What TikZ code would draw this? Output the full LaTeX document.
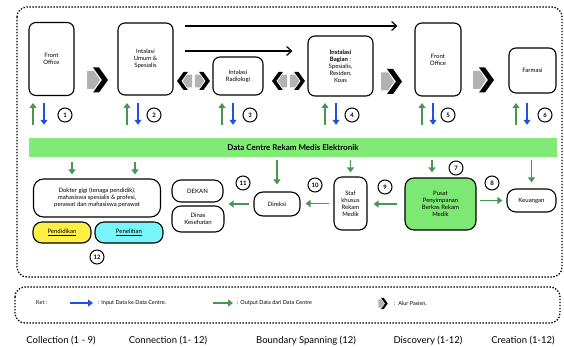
\documentclass[tikz,border=0pt]{standalone}
\usepackage{fontspec}
\setmainfont{Lato}
\usepackage{tikz}
\usetikzlibrary{arrows.meta}
\definecolor{barfill}{RGB}{130,235,120}
\definecolor{outgreen}{RGB}{72,150,82}
\definecolor{inblue}{RGB}{30,80,230}
\definecolor{storefill}{RGB}{125,232,115}
\definecolor{eduyellow}{RGB}{255,240,70}
\definecolor{rescyan}{RGB}{120,245,250}

\begin{document}
\begin{tikzpicture}[x=1pt,y=-1pt,
		box/.style={draw, line width=1.1pt, rounded corners=7pt, align=center, inner sep=1pt, font=\fontsize{6}{7}\selectfont},
		num/.style={circle, draw, line width=1pt, minimum size=14pt, inner sep=0pt, font=\bfseries\fontsize{6}{6}\selectfont},
		outarr/.style={draw=outgreen, line width=1.8pt, -{Triangle[length=5pt,width=7pt]}},
		inarr/.style={draw=inblue, line width=1.8pt, -{Triangle[length=5pt,width=7pt]}},
		flow/.style={line width=1.2pt, -{Straight Barb[length=5pt,width=9pt]}},
		dotbox/.style={line width=1.3pt, dash pattern=on 1.4pt off 1.6pt, rounded corners=10pt},
		legtext/.style={anchor=west, inner sep=0pt, font=\fontsize{5.5}{6}\selectfont},
		phase/.style={font=\fontsize{9.5}{11}\selectfont},
		chev/.pic={
			\fill[black!30] (-10.5,-9) -- (-3.5,-9) -- (2.5,0) -- (-3.5,9) -- (-10.5,9) -- cycle;
			\fill[black] (-4.5,-12.5) -- (1.5,-12.5) -- (10.5,0) -- (1.5,12.5) -- (-4.5,12.5) -- (4.5,0) -- cycle;
		}]
	\useasboundingbox (0,0) rectangle (564,347);

	\draw[dotbox] (17,7) rectangle (562,277);
	\draw[dotbox] (15,287) rectangle (560,323);

	\node[box, minimum width=45, minimum height=73] (fo1) at (51.5,59) {Front\\Office};
	\node[box, minimum width=55, minimum height=72] (um) at (145.5,59) {Intalasi\\Umum \&\\Spesialis};
	\node[box, minimum width=50, minimum height=38] (rad) at (238,76) {Intalasi\\Radiologi};
	\node[box, minimum width=65, minimum height=60] (bag) at (340.5,66) {\textbf{Instalasi}\\\textbf{Bagian} :\\Spesialis,\\Residen,\\Koas};
	\node[box, minimum width=46, minimum height=73] (fo5) at (438,59.5) {Front\\Office};
	\node[box, minimum width=47, minimum height=45] (far) at (532.5,70.5) {Farmasi};

	\pic at (97.5,80) {chev};
	\pic[xscale=-0.72, yscale=0.72] at (184.6,81) {chev};
	\pic[scale=0.72] at (202.4,81) {chev};
	\pic[xscale=-0.72, yscale=0.72] at (279.6,81) {chev};
	\pic[scale=0.72] at (297.4,81) {chev};
	\pic at (391.5,81.5) {chev};
	\pic at (483.5,80) {chev};

	\coordinate (t1) at (185,26);
	\coordinate (t2) at (185,51);
	\draw[flow, shorten >=17pt] (t1) -- (t1 -| fo5.west);
	\draw[flow, shorten >=15pt] (t2) -- (t2 -| bag.west);

	\node[fill=barfill, minimum width=528, minimum height=19, font=\bfseries\fontsize{8}{9}\selectfont] (bar) at (293,147.5) {Data Centre Rekam Medis Elektronik};

	\foreach \i/\g/\c in {1/33/65, 2/127/154, 3/222/250, 4/325/352, 5/422/448, 6/516/545} {
		\coordinate (g\i) at (\g,103);
		\coordinate (b\i) at ([xshift=11pt]g\i);
		\draw[outarr, shorten <=13pt] (bar.north -| g\i) -- (g\i);
		\draw[inarr, shorten >=13pt] (b\i) -- (bar.north -| b\i);
		\node[num] (n\i) at (\c,115) {\i};
	}

	\node[box, minimum width=127, minimum height=38, rounded corners=10pt] (dok) at (97,198) {Dokter gigi (tenaga pendidik),\\mahasiswa spesialis \& profesi,\\perawat dan mahasiswa perawat};
	\node[box, fill=eduyellow, minimum width=58, minimum height=21, rounded corners=9pt] (pend) at (62,232.5) {\underline{Pendidikan}};
	\node[box, fill=rescyan, minimum width=68, minimum height=21, rounded corners=9pt] (pen) at (129,232.5) {\underline{Penelitian}};
	\node[num] (n12) at (97,257) {12};
	\coordinate (d1) at (72,0);
	\coordinate (d2) at (135,0);
	\draw[outarr, shorten <=5pt, shorten >=4pt] (bar.south -| d1) -- (dok.north -| d1);
	\draw[outarr, shorten <=5pt, shorten >=4pt] (bar.south -| d2) -- (dok.north -| d2);

	\node[box, minimum width=51, minimum height=22, rounded corners=9pt] (dekan) at (197.5,191) {DEKAN};
	\node[box, minimum width=52, minimum height=26, rounded corners=9pt] (dinas) at (198,219) {Dinas\\Kesehatan};
	\node[num] (n11) at (243,183) {11};

	\node[box, minimum width=46, minimum height=24, rounded corners=9pt] (dir) at (277,204) {Direksi};
	\draw[outarr, shorten <=3pt, shorten >=7pt] (bar.south -| dir.north) -- (dir.north);
	\draw[outarr, shorten <=4pt, shorten >=4pt] (dir.west) -- (dir.west -| dinas.east);
	\node[num] (n10) at (315,185) {10};

	\node[box, minimum width=33, minimum height=53, rounded corners=8pt] (staf) at (350.5,203.5) {Staf\\khusus\\Rekam\\Medik};
	\draw[outarr, shorten <=3pt, shorten >=4pt] (bar.south -| staf.north) -- (staf.north);
	\draw[outarr, shorten <=4pt, shorten >=5pt] (staf.west) -- (staf.west -| dir.east);
	\node[num] (n9) at (385,187) {9};

	\node[box, fill=storefill, minimum width=71, minimum height=52, rounded corners=9pt] (pusat) at (440.5,204) {Pusat\\Penyimpanan\\Berkas Rekam\\Medik};
	\coordinate (d3) at (432,0);
	\draw[outarr, shorten <=3pt, shorten >=5pt] (bar.south -| d3) -- (pusat.north -| d3);
	\draw[outarr, shorten <=7pt, shorten >=6pt] (pusat.west) -- (pusat.west -| staf.east);
	\node[num] (n7) at (456,168) {7};
	\node[num] (n8) at (492,183) {8};

	\node[box, minimum width=49, minimum height=23, rounded corners=9pt] (keu) at (531.5,200.5) {Keuangan};
	\draw[outarr, shorten <=3pt, shorten >=6pt] (bar.south -| keu.north) -- (keu.north);
	\draw[outarr, shorten <=3pt, shorten >=4pt] (pusat.east |- keu.west) -- (keu.west);

	\node[legtext] (ket) at (36,303) {Ket :};
	\coordinate (lb) at (70,303);
	\node[legtext] (lin) at (98,303) {: Input Data ke Data Centre.};
	\draw[inarr, line width=1.4pt, shorten >=5pt] (lb) -- (lin.west);
	\coordinate (lg) at (213,303);
	\node[legtext] (lout) at (237,303) {: Output Data dari Data Centre};
	\draw[outarr, line width=1.4pt, shorten >=4pt] (lg) -- (lout.west);
	\pic[scale=0.45] at (383,303.5) {chev};
	\node[legtext] (lpas) at (394,303) {:\ \ Alur Pasien.};

	\node[phase] (col) at (61,341) {Collection (1 - 9)};
	\node[phase] (con) at (168,341) {Connection (1- 12)};
	\node[phase] (bou) at (306,341) {Boundary Spanning (12)};
	\node[phase] (dis) at (428,341) {Discovery (1-12)};
	\node[phase] (cre) at (523,341) {Creation (1-12)};
\end{tikzpicture}
\end{document}
